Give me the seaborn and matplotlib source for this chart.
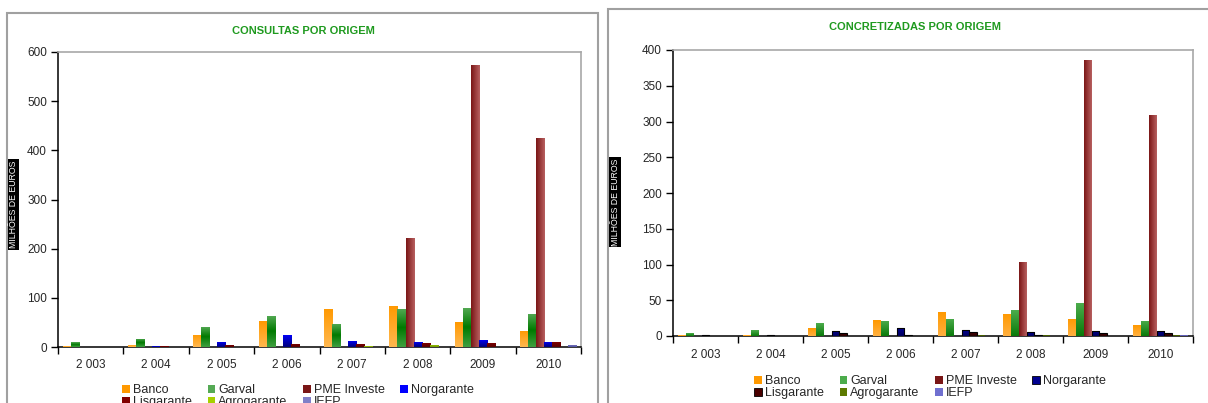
import numpy as np
import pandas as pd
import matplotlib
matplotlib.use("Agg")
import matplotlib.pyplot as plt
import seaborn as sns
from matplotlib.patches import Patch, Rectangle
from matplotlib.colors import LinearSegmentedColormap

# anos e origens
anos = ["2 003", "2 004", "2 005", "2 006", "2 007", "2 008", "2009", "2010"]
origens = ["Banco", "Garval", "PME Investe", "Norgarante", "Lisgarante", "Agrogarante", "IEFP"]

# consultas por origem (milhoes de euros)
cons_banco = [2, 5, 25, 52, 78, 84, 50, 33]
cons_garval = [10, 17, 41, 64, 47, 78, 80, 68]
cons_pme = [0, 0, 0, 0, 0, 222, 573, 425]
cons_norgarante = [0, 2, 11, 25, 13, 11, 15, 11]
cons_lisgarante = [0, 2, 5, 7, 7, 9, 9, 11]
cons_agrogarante = [0, 0, 0, 0, 2, 5, 0, 0]
cons_iefp = [0, 0, 0, 0, 0, 0, 0, 5]

# concretizadas por origem (milhoes de euros)
conc_banco = [1, 1, 11, 22, 33, 31, 24, 15]
conc_garval = [4, 8, 18, 21, 24, 36, 46, 21]
conc_pme = [0, 0, 0, 0, 0, 104, 386, 309]
conc_norgarante = [2, 2, 7, 11, 8, 5, 7, 7]
conc_lisgarante = [0, 0, 4, 2, 5, 2, 4, 4]
conc_agrogarante = [0, 0, 0, 0, 1, 1, 0, 1]
conc_iefp = [0, 0, 0, 0, 0, 0, 0, 1]

sns.set_style("white")
plt.rcParams["font.family"] = ["Liberation Sans", "DejaVu Sans"]

W, H = 1208, 403

# gradient colours per series (vertical top->bottom unless horizontal)
grad_cons = [
    (["#FF9900", "#FFB850"], False),
    (["#55AA55", "#007A00", "#3F9F3F"], False),
    (["#7A1616", "#B86060"], True),
    (["#0000FF", "#00007A"], False),
    (["#820000", "#5A0000"], False),
    (["#A6D000", "#6E9400"], False),
    (["#8080C8", "#5050A0"], False),
]
grad_conc = [
    (["#FF9900", "#FFB040"], False),
    (["#4CAC4C", "#0A7A0A"], False),
    (["#7A1616", "#B86060"], True),
    (["#000090", "#000060"], False),
    (["#4A0000", "#2A0000"], False),
    (["#5C7A00", "#334400"], False),
    (["#7070D0", "#5050A0"], False),
]

# legend is filled column by column; this gives Excel's row-wise order
leg_order = [0, 4, 1, 5, 2, 6, 3]


def long_table(series):
    return pd.DataFrame({
        "ano": np.tile(anos, len(origens)),
        "origem": np.repeat(origens, len(anos)),
        "valor": np.concatenate(series),
    })


def shade(ax, grads, edged=()):
    for cont, (cols, horiz), name in zip(ax.containers, grads, origens):
        cmap = LinearSegmentedColormap.from_list(name, cols)
        g = np.linspace(0, 1, 64)
        arr = g.reshape(1, -1) if horiz else g.reshape(-1, 1)
        for bar in cont:
            x, y, w, h = bar.get_x(), bar.get_y(), bar.get_width(), bar.get_height()
            if h <= 0:
                continue
            im = ax.imshow(arr, cmap=cmap, extent=(x, x + w, y, y + h),
                           origin="upper", aspect="auto", zorder=3)
            im.set_clip_path(bar)
            if name in edged:
                ax.add_patch(Rectangle((x, y), w, h, fill=False, ec="black", lw=0.8, zorder=4))


def draw(rect, series, grads, ymax, ystep, title, title_xy, ylab_xy, leg_xy, edged=()):
    ax = fig.add_axes([rect[0] / W, 1 - rect[3] / H, (rect[2] - rect[0]) / W, (rect[3] - rect[1]) / H])
    df = long_table(series)
    pal = {o: g[0][0] for o, g in zip(origens, grads)}
    sns.barplot(data=df, x="ano", y="valor", hue="origem", order=anos, hue_order=origens,
                palette=pal, width=0.86, saturation=1, linewidth=0, legend=False, ax=ax)
    shade(ax, grads, edged)
    ax.set_xlim(-0.5, 7.5)
    ax.set_ylim(0, ymax)
    ax.set_yticks(np.arange(0, ymax + 1, ystep))
    ax.set_xticks(range(len(anos)))
    ax.set_xticks(np.arange(-0.5, 8, 1), minor=True)
    ax.tick_params(axis="x", which="major", length=0, pad=9, labelsize=8.5)
    ax.tick_params(axis="x", which="minor", length=5, width=1, direction="out", color="black", bottom=True)
    ax.tick_params(axis="y", length=5, width=1, direction="out", color="black", left=True, pad=3, labelsize=8.5)
    ax.set_xlabel("")
    ax.set_ylabel("")
    for s in ["left", "bottom"]:
        ax.spines[s].set_color("black")
        ax.spines[s].set_linewidth(1.1)
    for s in ["top", "right"]:
        ax.spines[s].set_color("#a8a8a8")
        ax.spines[s].set_linewidth(1.2)
    fig.text(title_xy[0] / W, 1 - title_xy[1] / H, title, ha="center", va="center",
             fontsize=8, fontweight="bold", color="#1F9A1F")
    fig.text(ylab_xy[0] / W, 1 - ylab_xy[1] / H, "MILHÕES DE EUROS", rotation=90,
             ha="center", va="center", fontsize=6.3, color="white",
             bbox=dict(facecolor="black", edgecolor="none", pad=1))
    handles = [Patch(facecolor=g[0][0], edgecolor="black" if o in edged else "none", lw=0.6)
               for o, g in zip(origens, grads)]
    fig.legend([handles[i] for i in leg_order], [origens[i] for i in leg_order],
               loc="upper center", ncol=4, frameon=False,
               bbox_to_anchor=(leg_xy[0] / W, 1 - leg_xy[1] / H), fontsize=9,
               handlelength=0.6, handleheight=0.6, handletextpad=0.25,
               columnspacing=1.25, labelspacing=0.0, borderpad=0, borderaxespad=0)
    return ax


fig = plt.figure(figsize=(W / 100, H / 100), dpi=100)
fig.patch.set_facecolor("white")

# molduras
fig.add_artist(Rectangle((7 / W, -0.2), 591 / W, 1.2 - 13 / H, transform=fig.transFigure,
                         fill=False, ec="#a0a0a0", lw=1.5))
fig.add_artist(Rectangle((608 / W, -0.2), 0.6, 1.2 - 9 / H, transform=fig.transFigure,
                         fill=False, ec="#a0a0a0", lw=1.5))

draw((58, 52, 581, 347),
     [cons_banco, cons_garval, cons_pme, cons_norgarante, cons_lisgarante, cons_agrogarante, cons_iefp],
     grad_cons, 600, 100, "CONSULTAS POR ORIGEM", (303, 31), (13.5, 204.5), (298, 384))

draw((673, 50, 1193, 336),
     [conc_banco, conc_garval, conc_pme, conc_norgarante, conc_lisgarante, conc_agrogarante, conc_iefp],
     grad_conc, 400, 50, "CONCRETIZADAS POR ORIGEM", (915, 27), (615, 202), (930, 375),
     edged=("Norgarante", "Lisgarante"))

fig.savefig("out.png", dpi=100)
